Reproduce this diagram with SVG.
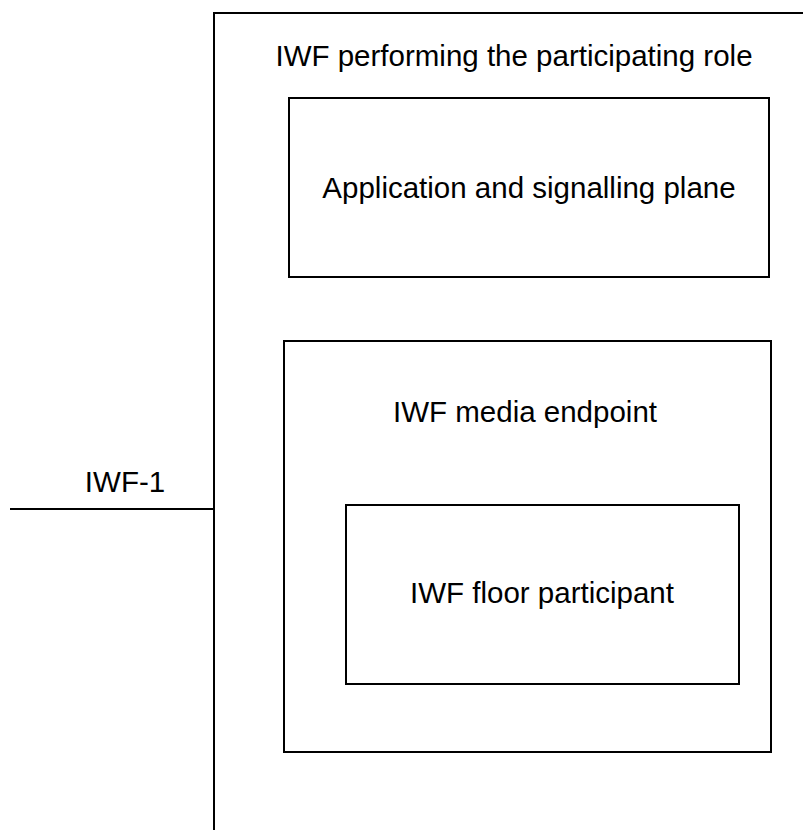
<svg xmlns="http://www.w3.org/2000/svg" width="803" height="830" viewBox="0 0 803 830">
<style>
.box{fill:none;stroke:#000;stroke-width:2}
.ln{fill:none;stroke:#000;stroke-width:2}
text{font-family:"Liberation Sans",Arial,sans-serif;font-size:29.5px;fill:#000;text-anchor:middle}
</style>
<rect width="803" height="830" fill="#fff"/>
<g id="iwf-participating">
<path class="box" d="M803,13 H214 V830"/>
<text x="514" y="66">IWF performing the participating role</text>
</g>
<g id="app-signalling">
<rect class="box" x="289" y="98" width="480" height="179"/>
<text x="529" y="198">Application and signalling plane</text>
</g>
<g id="media-endpoint">
<rect class="box" x="284" y="341" width="487" height="411"/>
<text x="525" y="422">IWF media endpoint</text>
</g>
<g id="floor-participant">
<rect class="box" x="346" y="505" width="393" height="179"/>
<text x="542" y="603">IWF floor participant</text>
</g>
<g id="connectors">
<line class="ln" x1="10" y1="509" x2="214" y2="509"/>
<text x="125" y="492">IWF-1</text>
</g>
</svg>
